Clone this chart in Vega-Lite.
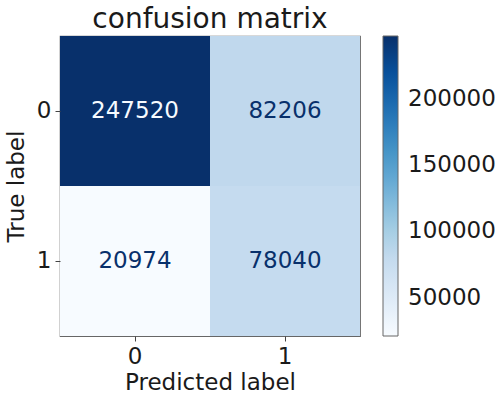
{
  "$schema": "https://vega.github.io/schema/vega-lite/v6.json",
  "autosize": "none",
  "padding": {"left": 60, "top": 36, "right": 143, "bottom": 64},
  "width": 300,
  "height": 300,
  "background": "white",
  "title": {"text": "confusion matrix", "fontSize": 28, "fontWeight": "normal", "font": "DejaVu Sans", "color": "#1a1a1a", "offset": 2},
  "config": {
    "font": "DejaVu Sans",
    "view": {"stroke": "#666", "strokeWidth": 1.2},
    "axis": {"labelFont": "DejaVu Sans", "titleFont": "DejaVu Sans", "labelFontSize": 23, "titleFontSize": 23, "titleFontWeight": "normal", "labelColor": "#1a1a1a", "titleColor": "#1a1a1a", "grid": false, "domain": false, "tickColor": "#444", "tickSize": 5, "labelPadding": 4}
  },
  "data": {"values": [
    {"true": "0", "pred": "0", "count": 247520},
    {"true": "0", "pred": "1", "count": 82206},
    {"true": "1", "pred": "0", "count": 20974},
    {"true": "1", "pred": "1", "count": 78040}
  ]},
  "layer": [
    {
      "mark": {"type": "rect", "strokeWidth": 0},
      "encoding": {
        "x": {"field": "pred", "type": "nominal", "title": "Predicted label", "scale": {"paddingInner": 0, "paddingOuter": 0}, "axis": {"labelAngle": 0, "titlePadding": 3}},
        "y": {"field": "true", "type": "nominal", "title": "True label", "scale": {"paddingInner": 0, "paddingOuter": 0}, "axis": {"titlePadding": 8}},
        "color": {
          "field": "count", "type": "quantitative",
          "scale": {
            "domain": [20974, 49292.25, 77610.5, 105928.75, 134247, 162565.25, 190883.5, 219201.75, 247520],
            "range": ["#f7fbff", "#deebf7", "#c6dbef", "#9ecae1", "#6baed6", "#4292c6", "#2171b5", "#08519c", "#08306b"],
            "interpolate": "rgb"
          },
          "legend": {
            "title": null,
            "orient": "none",
            "legendX": 323,
            "legendY": 0,
            "direction": "vertical",
            "gradientLength": 300,
            "gradientThickness": 15,
            "gradientStrokeColor": "#666",
            "gradientStrokeWidth": 1,
            "values": [50000, 100000, 150000, 200000],
            "format": "d",
            "labelFontSize": 23,
            "labelFont": "DejaVu Sans",
            "labelColor": "#1a1a1a",
            "labelOffset": 10,
            "labelOverlap": false
          }
        }
      }
    },
    {
      "mark": {"type": "text", "fontSize": 23, "font": "DejaVu Sans"},
      "encoding": {
        "x": {"field": "pred", "type": "nominal"},
        "y": {"field": "true", "type": "nominal"},
        "text": {"field": "count", "type": "quantitative", "format": "d"},
        "color": {"condition": {"test": "datum.count > 134247", "value": "#f7fbff"}, "value": "#08306b"}
      }
    }
  ]
}
